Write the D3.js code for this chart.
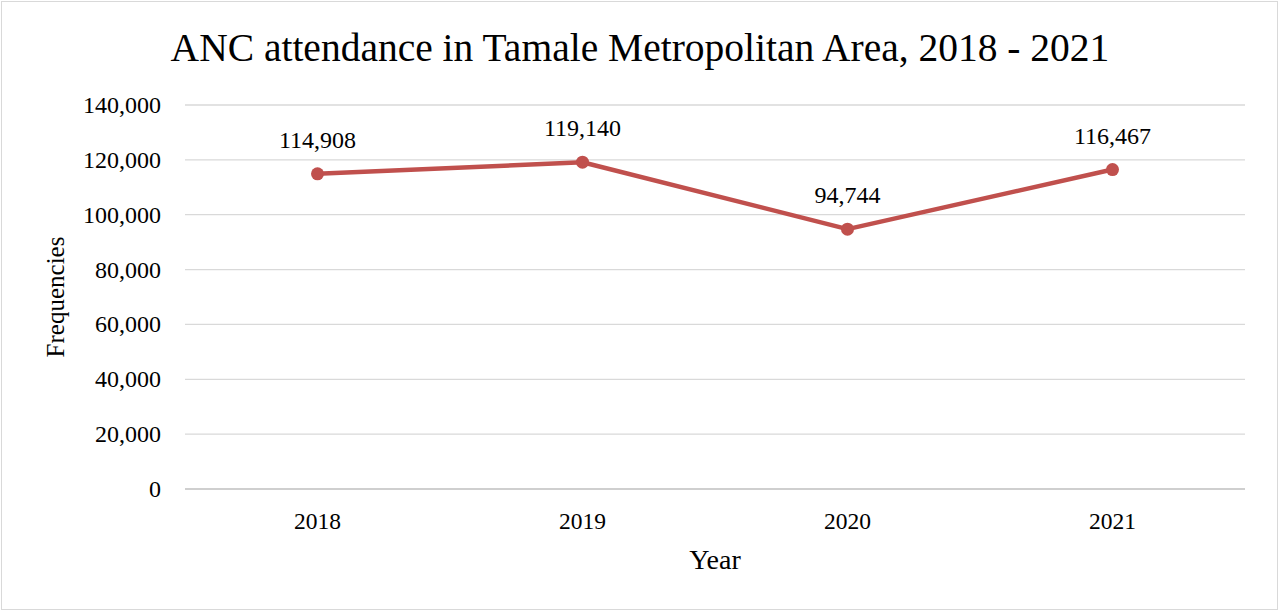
<!DOCTYPE html>
<html><head><meta charset="utf-8">
<script src="https://cdn.jsdelivr.net/npm/d3@7"></script>
<style>body{margin:0;background:#fff}svg{display:block}text{font-family:"Liberation Serif","Times New Roman",serif;fill:#000}</style>
</head><body><svg id="c" width="1280" height="614"></svg>
<script>
const years = ["2018","2019","2020","2021"];
const values = [114908,119140,94744,116467];
const yTicks = [0,20000,40000,60000,80000,100000,120000,140000];
const svg = d3.select("#c");
svg.append("rect").attr("x",1.5).attr("y",1.5).attr("width",1276).attr("height",608).attr("fill","#fff").attr("stroke","#d9d9d9");
const x = d3.scaleBand().domain(years).range([185,1245]);
const y = d3.scaleLinear().domain([0,140000]).range([489,105]);
const fmt = d3.format(",");
svg.append("g").selectAll("line").data(yTicks).join("line")
 .attr("x1",185).attr("x2",1245).attr("y1",d=>y(d)).attr("y2",d=>y(d))
 .attr("stroke",d=>d===0?"#bfbfbf":"#d9d9d9").attr("stroke-width",1.3);
svg.append("g").selectAll("text").data(yTicks).join("text")
 .attr("x",161).attr("y",d=>y(d)+8).attr("text-anchor","end").attr("font-size",24).text(d=>fmt(d));
svg.append("g").selectAll("text").data(years).join("text")
 .attr("x",d=>x(d)+x.bandwidth()/2).attr("y",529).attr("text-anchor","middle").attr("font-size",23.5).text(d=>d);
const cx = (d,i)=>x(years[i])+x.bandwidth()/2;
svg.append("path").datum(values).attr("fill","none").attr("stroke","#c0504d").attr("stroke-width",4.5)
 .attr("stroke-linejoin","round").attr("d",d3.line().x((d,i)=>cx(d,i)).y(d=>y(d)));
svg.append("g").selectAll("circle").data(values).join("circle")
 .attr("cx",cx).attr("cy",d=>y(d)).attr("r",6.5).attr("fill","#c0504d");
svg.append("g").selectAll("text").data(values).join("text")
 .attr("x",cx).attr("y",d=>y(d)-26).attr("text-anchor","middle").attr("font-size",24).text(d=>fmt(d));
svg.append("text").attr("x",640).attr("y",61).attr("text-anchor","middle").attr("font-size",39.5).text("ANC attendance in Tamale Metropolitan Area, 2018 - 2021");
svg.append("text").attr("x",715).attr("y",569).attr("text-anchor","middle").attr("font-size",28).text("Year");
svg.append("text").attr("transform","translate(64,297) rotate(-90)").attr("text-anchor","middle").attr("font-size",25).text("Frequencies");
</script></body></html>
